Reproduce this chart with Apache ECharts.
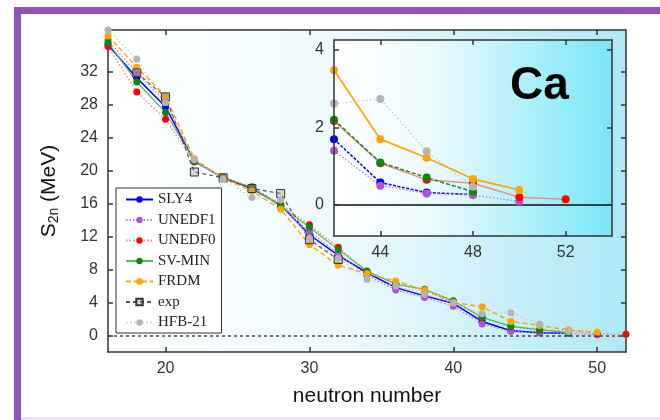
<!DOCTYPE html>
<html>
<head>
<meta charset="utf-8">
<script src="https://cdn.jsdelivr.net/npm/echarts@6/dist/echarts.min.js"></script>
<style>
  html, body { margin: 0; padding: 0; background: #fff; }
  #chart { width: 660px; height: 420px; }
</style>
</head>
<body>
<div id="chart"></div>
<script>
// Two-neutron separation energies of Ca isotopes, models vs experiment.
const neutrons = [16, 18, 20, 22, 24, 26, 28, 30, 32, 34, 36, 38, 40, 42, 44, 46, 48, 50, 52];
const sly4   = [35.2, 31.2, 27.7, 21.1, 19.1, 17.8, 15.8, 12.2, 9.7, 7.6, 5.8, 4.8, 3.9, 1.70, 0.58, 0.32, 0.27, null, null];
const unedf1 = [35.8, 31.8, 28.3, 21.2, 19.1, 17.9, 15.6, 12.6, 9.9, 7.3, 5.5, 4.6, 3.55, 1.40, 0.50, 0.30, 0.26, 0.09, null];
const unedf0 = [35.0, 29.5, 26.2, 21.0, 19.2, 18.0, 15.9, 13.4, 10.7, 7.7, 6.3, 5.4, 4.1, 2.17, 1.08, 0.65, 0.56, 0.20, 0.15];
const svmin  = [35.5, 30.7, 27.0, 21.1, 19.1, 17.9, 15.7, 13.1, 10.4, 7.8, 6.2, 5.6, 4.2, 2.20, 1.10, 0.71, 0.34, null, null];
const frdm   = [36.3, 32.5, 29.0, 21.4, 19.0, 17.5, 15.3, 11.0, 8.5, 7.5, 6.6, 5.5, 4.0, 3.48, 1.70, 1.22, 0.67, 0.39, null];
const expt   = [null, 31.8, 28.9, 19.8, 19.1, 17.8, 17.2, 11.6, 9.2, null, null, null, null, null, null, null, null, null, null];
const hfb21  = [37.0, 33.5, 28.2, 21.3, 18.9, 16.7, 16.4, 11.8, 9.4, 6.8, 6.0, 5.0, 3.95, 2.62, 2.74, 1.39, 0.47, null, null];

const mainXTicks = [20, 30, 40, 50];
const mainYTicks = [0, 4, 8, 12, 16, 20, 24, 28, 32];
const insetXTicks = [44, 48, 52];
const insetYTicks = [0, 2, 4];
const insetFrom = 42;

const SANS = "'Liberation Sans', Arial, sans-serif";
const SERIF = "'Liberation Serif', 'Times New Roman', serif";
const FRAME = { color: "#333", width: 1.5 };

function pairs(values, fromN) {
  const out = [];
  neutrons.forEach((n, i) => {
    if (values[i] == null) return;
    if (fromN != null && n < fromN) return;
    out.push([n, values[i]]);
  });
  return out;
}

// name, values, marker colour, main line style, inset line style
const models = [
  { name: "SLY4",   data: sly4,   dot: "#0000f0", line: { color: "#0000ff", width: 1.5, type: "solid" }, inset: { color: "#0000ff", width: 1.5, type: [3, 1.5] } },
  { name: "UNEDF1", data: unedf1, dot: "#b452d6", line: { color: "#c27ae0", width: 1.3, type: [1.5, 2] }, inset: { color: "#c27ae0", width: 1.3, type: [1.5, 2] } },
  { name: "UNEDF0", data: unedf0, dot: "#ff0000", line: { color: "#ff7a7a", width: 1.3, type: [1.5, 2] }, inset: { color: "#f28b8b", width: 1.5, type: "solid" } },
  { name: "SV-MIN", data: svmin,  dot: "#0a8a0a", line: { color: "#4cc04c", width: 1.2, type: "solid" }, inset: { color: "#1a901a", width: 1.5, type: [4, 2] } },
  { name: "FRDM",   data: frdm,   dot: "#ffa500", line: { color: "#ffa500", width: 1.4, type: [5, 3] }, inset: { color: "#ffa500", width: 1.7, type: "solid" } },
];
const hfb = { name: "HFB-21", data: hfb21, dot: "#b4b4b4", line: { color: "#c4c4c4", width: 1.2, type: [1.5, 2.5] }, inset: { color: "#c4c4c4", width: 1.2, type: [1.5, 2.5] } };

const series = [];
models.forEach((m) => {
  series.push({
    name: m.name, type: "line", xAxisIndex: 0, yAxisIndex: 0,
    data: pairs(m.data), symbol: "circle", symbolSize: 7,
    lineStyle: m.line, itemStyle: { color: m.dot }, z: 3,
  });
});
series.push({
  name: "exp", type: "line", xAxisIndex: 0, yAxisIndex: 0,
  data: pairs(expt), symbol: "rect", symbolSize: 8,
  lineStyle: { color: "#555", width: 1.2, type: [4, 3] },
  itemStyle: { color: "rgba(150,150,150,0.35)", borderColor: "#333", borderWidth: 1 }, z: 3,
});
series.push({
  name: hfb.name, type: "line", xAxisIndex: 0, yAxisIndex: 0,
  data: pairs(hfb.data), symbol: "circle", symbolSize: 7,
  lineStyle: hfb.line, itemStyle: { color: hfb.dot }, z: 3,
});
// dotted zero line of the main plot
series[0].markLine = {
  silent: true, symbol: "none", label: { show: false }, animation: false,
  lineStyle: { color: "#444", width: 1.5, type: [3, 3] },
  data: [{ yAxis: 0 }],
};

// inset (grid 1)
[...models, hfb].forEach((m, k) => {
  series.push({
    name: m.name, type: "line", xAxisIndex: 2, yAxisIndex: 2,
    data: pairs(m.data, insetFrom), symbol: "circle", symbolSize: 8,
    lineStyle: m.inset, itemStyle: { color: m.dot }, z: 6, clip: true,
    markLine: k === 0 ? {
      silent: true, symbol: "none", label: { show: false }, animation: false,
      lineStyle: { color: "#111", width: 1.5, type: "solid" },
      data: [{ yAxis: 0 }],
    } : undefined,
  });
});

function xAx(grid, min, max, ticks, pos, withLabels, extra) {
  return Object.assign({
    gridIndex: grid, type: "value", min, max, position: pos,
    axisLine: { show: true, onZero: false, lineStyle: FRAME },
    axisTick: { show: true, inside: true, length: 5, customValues: ticks, lineStyle: FRAME },
    axisLabel: { show: withLabels, customValues: ticks, fontSize: 16, color: "#333", fontFamily: SANS, margin: 9 },
    splitLine: { show: false },
  }, extra || {});
}
function yAx(grid, min, max, ticks, pos, withLabels, extra) {
  return Object.assign({
    gridIndex: grid, type: "value", min, max, position: pos,
    axisLine: { show: true, onZero: false, lineStyle: FRAME },
    axisTick: { show: true, inside: true, length: 5, customValues: ticks, lineStyle: FRAME },
    axisLabel: { show: withLabels, customValues: ticks, fontSize: 16, color: "#333", fontFamily: SANS, margin: 10 },
    splitLine: { show: false },
  }, extra || {});
}

const chart = echarts.init(document.getElementById("chart"), null, { renderer: "canvas" });
chart.setOption({
  animation: false,
  backgroundColor: "#fff",
  title: {
    text: "Ca", left: 505, top: 58, z: 10,
    textStyle: { fontSize: 46, fontWeight: "bold", fontFamily: SANS, color: "#000" },
  },
  graphic: [
    { type: "rect", shape: { x: 14, y: 7, width: 7, height: 413 }, style: { fill: "#8e53b7" }, z: 100 },
    { type: "rect", shape: { x: 14, y: 7, width: 646, height: 7 }, style: { fill: "#8e53b7" }, z: 100 },
    { type: "rect", shape: { x: 21, y: 417, width: 639, height: 3 }, style: { fill: "#ebe5f2" }, z: 100 },
  ],
  legend: {
    data: ["SLY4", "UNEDF1", "UNEDF0", "SV-MIN", "FRDM", "exp", "HFB-21"],
    orient: "vertical", left: 116, top: 188,
    itemWidth: 27, itemHeight: 8, itemGap: 5.5,
    padding: [4, 6, 3, 9],
    borderColor: "#333", borderWidth: 1, backgroundColor: "#fff",
    selectedMode: false, z: 8,
    textStyle: { fontFamily: SERIF, fontSize: 15, color: "#222" },
  },
  grid: [
    {
      left: 108, right: 34, top: 30, bottom: 68, show: true, borderWidth: 0,
      backgroundColor: new echarts.graphic.LinearGradient(0, 0, 1, 0, [
        { offset: 0, color: "#ffffff" }, { offset: 0.45, color: "#eefafd" }, { offset: 1, color: "#aee8f6" },
      ]),
    },
    {
      left: 334, right: 48, top: 40, bottom: 184, show: true, borderWidth: 0, z: 4,
      backgroundColor: new echarts.graphic.LinearGradient(0, 0, 1, 0, [
        { offset: 0, color: "#ffffff" }, { offset: 0.35, color: "#ecfbfe" }, { offset: 1, color: "#78e6f8" },
      ]),
    },
  ],
  xAxis: [
    xAx(0, 16, 52, mainXTicks, "bottom", true, {
      name: "neutron number", nameLocation: "middle", nameGap: 34,
      nameTextStyle: { fontSize: 21, color: "#111", fontFamily: SANS },
    }),
    xAx(0, 16, 52, mainXTicks, "top", false),
    xAx(1, 42, 54, insetXTicks, "bottom", true, { z: 7 }),
    xAx(1, 42, 54, insetXTicks, "top", false, { z: 7 }),
  ],
  yAxis: [
    yAx(0, -2, 37, mainYTicks, "left", true, {
      name: "{s|S}{sub|2n}{s| (MeV)}", nameLocation: "middle", nameGap: 47, nameRotate: 90,
      nameTextStyle: {
        color: "#111", fontFamily: SANS,
        rich: {
          s: { fontSize: 21, fontFamily: SANS, color: "#111" },
          sub: { fontSize: 14, fontFamily: SANS, color: "#111", verticalAlign: "bottom", padding: [10, 0, 0, 0] },
        },
      },
    }),
    yAx(0, -2, 37, mainYTicks, "right", false),
    yAx(1, -0.8, 4.26, insetYTicks, "left", true, { z: 7 }),
    yAx(1, -0.8, 4.26, insetYTicks, "right", false, { z: 7 }),
  ],
  series,
});
</script>
</body>
</html>
